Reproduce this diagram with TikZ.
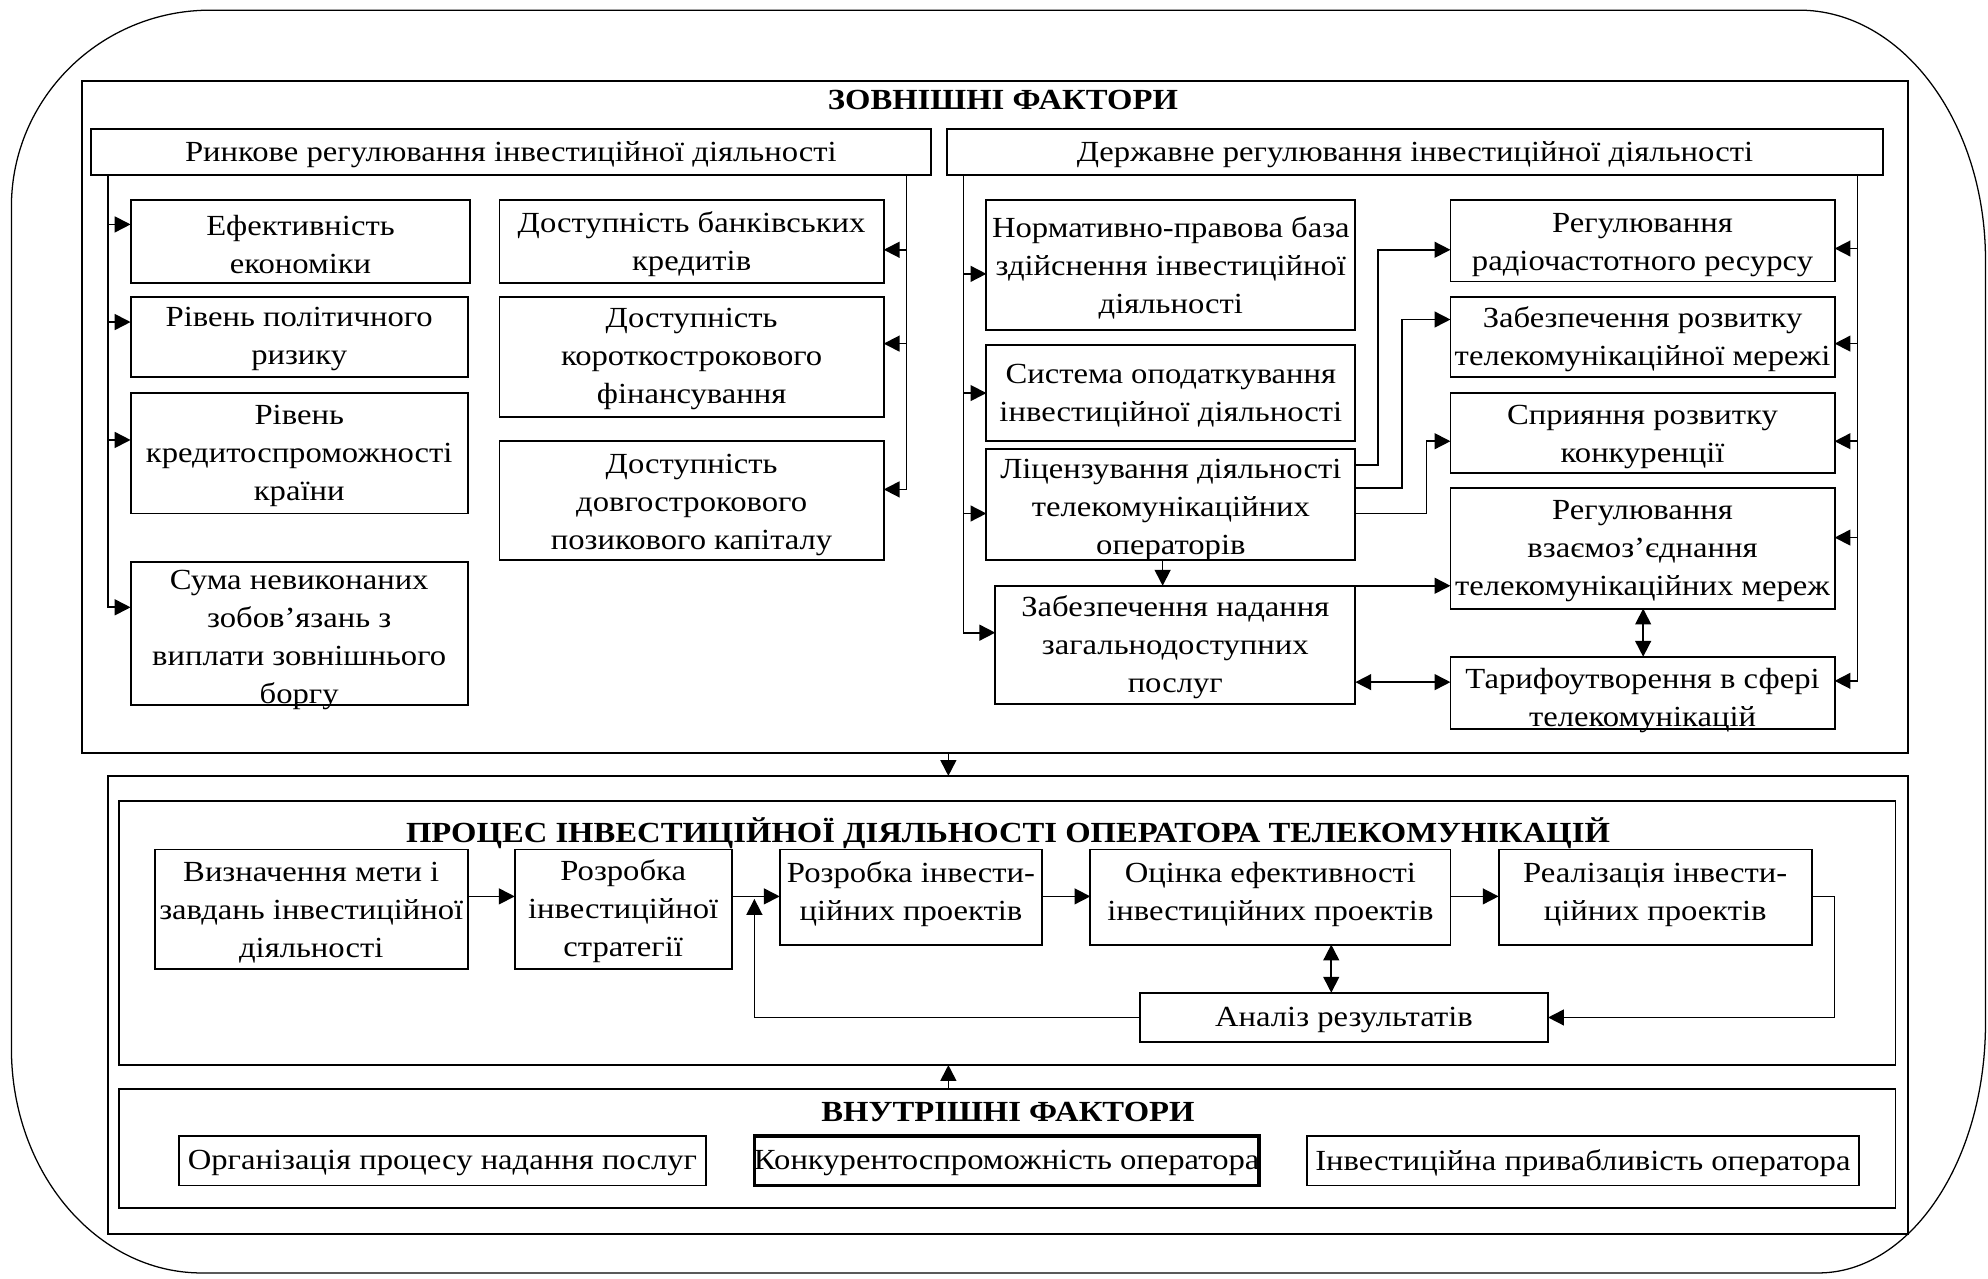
\documentclass[tikz,border=0pt]{standalone}
\usepackage{fontspec}
\setmainfont{Liberation Serif}[FakeStretch=1.12]
\usetikzlibrary{arrows.meta,fit,calc}
\newcommand\dfont{\fontsize{13.8}{18}\selectfont}
\tikzset{
  bx/.style={draw, line width=0.9pt, inner sep=0pt, outer sep=0pt},
  tx/.style={align=center, inner sep=0pt, font=\dfont, yshift=-1.2pt},
  ttl/.style={align=center, inner sep=0pt, font=\dfont\bfseries},
  tip/.tip={Triangle[length=7.5pt,width=7.5pt]},
  arr/.style={line width=0.8pt, -tip},
  darr/.style={line width=0.8pt, tip-tip},
}
% \bxn[text options]{name}{x1}{y1}{x2}{y2}{text}
\newcommand\bxn[7][]{%
  \node[bx, fit={(#3,-#4) (#5,-#6)}] (#2) {};
  \node[tx,#1] (#2-t) at (#2.center) {#7};}
\begin{document}
\begin{tikzpicture}[x=0.6pt,y=0.6pt]
\useasboundingbox (0,0) rectangle (1568,-1008);
% outer rounded frame
\draw[line width=0.6pt] (166,-8) -- (1419,-8)
  arc[start angle=90,end angle=0,x radius=88.2pt,y radius=118.2pt]
  -- (1566,-807)
  arc[start angle=0,end angle=-90,x radius=79.2pt,y radius=118.2pt]
  -- (159,-1004)
  arc[start angle=270,end angle=180,x radius=90pt,y radius=106.2pt]
  -- (9,-163)
  arc[start angle=180,end angle=90,x radius=94.2pt,y radius=93pt]
  -- cycle;
% big frames
\node[bx, fit={(65,-64) (1505,-594)}] (ext) {};
\node[bx, fit={(85,-612) (1505,-973)}] (bot) {};
\node[bx, fit={(94,-632) (1495,-840)}] (proc) {};
\node[bx, fit={(94,-859) (1495,-953)}] (int) {};
\node[ttl] (t1) at (791,-79) {ЗОВНІШНІ ФАКТОРИ};
\node[ttl] (t2) at (795,-657) {ПРОЦЕС ІНВЕСТИЦІЙНОЇ ДІЯЛЬНОСТІ ОПЕРАТОРА ТЕЛЕКОМУНІКАЦІЙ};
\node[ttl] (t3) at (795,-877) {ВНУТРІШНІ ФАКТОРИ};
% external factors
\bxn{rr}{72}{102}{734}{138}{Ринкове регулювання інвестиційної діяльності}
\bxn{dr}{747}{102}{1485}{138}{Державне регулювання інвестиційної діяльності}
\bxn{ef}{103}{158}{371}{223}{Ефективність\\економіки}
\bxn{rpz}{103}{234}{369}{297}{Рівень політичного\\ризику}
\bxn{rk}{103}{310}{369}{405}{Рівень\\кредитоспроможності\\країни}
\bxn[yshift=-1.8pt]{sum}{103}{443}{369}{556}{Сума невиконаних\\зобов’язань з\\виплати зовнішнього\\боргу}
\bxn{bk}{394}{158}{697}{223}{Доступність банківських\\кредитів}
\bxn{kf}{394}{234}{697}{329}{Доступність\\короткострокового\\фінансування}
\bxn[yshift=-0.6pt]{dk}{394}{348}{697}{442}{Доступність\\довгострокового\\позикового капіталу}
\bxn{np}{778}{158}{1069}{260}{Нормативно-правова база\\здійснення інвестиційної\\діяльності}
\bxn{so}{778}{272}{1069}{348}{Система оподаткування\\інвестиційної діяльності}
\bxn[yshift=-1.2pt]{lic}{778}{354}{1069}{442}{Ліцензування діяльності\\телекомунікаційних\\операторів}
\bxn{zn}{785}{462}{1069}{555}{Забезпечення надання\\загальнодоступних\\послуг}
\bxn[yshift=-0.6pt]{rch}{1144}{158}{1447}{222}{Регулювання\\радіочастотного ресурсу}
\bxn{zr}{1144}{234}{1447}{297}{Забезпечення розвитку\\телекомунікаційної мережі}
\bxn[yshift=-0.6pt]{sk}{1144}{310}{1447}{373}{Сприяння розвитку\\конкуренції}
\bxn{rv}{1144}{385}{1447}{480}{Регулювання\\взаємоз’єднання\\телекомунікаційних мереж}
\bxn[yshift=-2.4pt]{tar}{1144}{518}{1447}{575}{Тарифоутворення в сфері\\телекомунікацій}
% process
\bxn[yshift=-0.6pt]{viz}{122}{670}{369}{764}{Визначення мети і\\завдань інвестиційної\\діяльності}
\bxn{str}{406}{670}{577}{764}{Розробка\\інвестиційної\\стратегії}
\bxn[yshift=2.4pt]{rpp}{615}{670}{822}{745}{Розробка інвести-\\ційних проектів}
\bxn[yshift=2.4pt]{oc}{860}{670}{1144}{745}{Оцінка ефективності\\інвестиційних проектів}
\bxn[yshift=2.4pt]{real}{1182}{670}{1429}{745}{Реалізація інвести-\\ційних проектів}
\bxn{an}{899}{783}{1221}{822}{Аналіз результатів}
% internal
\bxn{org}{141}{896}{557}{935}{Організація процесу надання послуг}
\node[bx, line width=1.6pt, fit={(595,-896) (993,-935)}] (konk) {};
\node[tx] (konk-t) at (konk.center) {Конкурентоспроможність оператора};
\bxn{inv}{1031}{896}{1466}{935}{Інвестиційна привабливість оператора}
% trunk x positions
\coordinate (lt) at (85,0);
\coordinate (rt1) at (715,0);
\coordinate (lt2) at (760,0);
\coordinate (rt2) at (1465,0);
\foreach \n/\y in {ef/177,rpz/254,rk/347,sum/479}
  \draw[arr] (rr.south -| lt) |- (\n.west |- 0,-\y);
\foreach \n/\y in {bk/197,kf/271,dk/386}
  \draw[arr] (rr.south -| rt1) |- (\n.east |- 0,-\y);
\foreach \n/\y in {np/216,so/310,lic/405,zn/499}
  \draw[arr] (dr.south -| lt2) |- (\n.west |- 0,-\y);
\foreach \n/\y in {rch/196,zr/271,sk/348,rv/424,tar/537}
  \draw[arr] (dr.south -| rt2) |- (\n.east |- 0,-\y);
% licensing links
\draw[arr] (lic.east |- 0,-367) -- (1087,-367) |- (rch.west |- 0,-197);
\draw[arr] (lic.east |- 0,-385) -- (1106,-385) |- (zr.west |- 0,-252);
\draw[arr] (lic.east |- 0,-405) -- (1125,-405) |- (sk.west |- 0,-348);
\draw[arr] (lic.south -| 917,0) -- (zn.north -| 917,0);
\draw[arr] (zn.north east) -- (rv.west |- zn.north east);
\draw[darr] (zn.east |- 0,-538) -- (tar.west |- 0,-538);
\draw[darr] (rv.south -| 1296,0) -- (tar.north -| 1296,0);
% between frames
\draw[arr] (ext.south -| 748,0) -- (bot.north -| 748,0);
\draw[arr] (int.north -| 748,0) -- (proc.south -| 748,0);
% process flow
\draw[arr] (viz.east |- 0,-707) -- (str.west |- 0,-707);
\draw[arr] (str.east |- 0,-707) -- (rpp.west |- 0,-707);
\draw[arr] (rpp.east |- 0,-707) -- (oc.west |- 0,-707);
\draw[arr] (oc.east |- 0,-707) -- (real.west |- 0,-707);
\draw[darr] (oc.south -| 1050,0) -- (an.north -| 1050,0);
\draw[arr] (real.east |- 0,-707) -- (1447,-707) |- (an.east);
\draw[arr] (an.west) -| (595,-709);
\end{tikzpicture}
\end{document}
